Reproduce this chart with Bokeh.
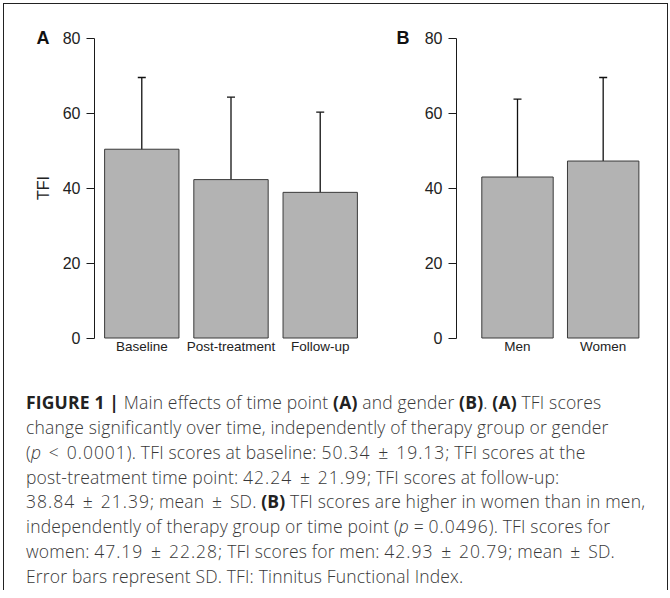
from bokeh.plotting import figure
from bokeh.models import (ColumnDataSource, FactorRange, Range1d, Whisker, TeeHead,
                          FixedTicker, LinearAxis, Div)
from bokeh.layouts import row, column
from bokeh.embed import file_html
from bokeh.resources import INLINE

# ---- data (from the figure caption) ----
time_points = ["Baseline", "Post-treatment", "Follow-up"]
time_means = [50.34, 42.24, 38.84]
time_sds = [19.13, 21.99, 21.39]

genders = ["Men", "Women"]
gender_means = [42.93, 47.19]
gender_sds = [20.79, 22.28]

y_ticks = [0, 20, 40, 60, 80]
y_label = "TFI"
panel_labels = ["A", "B"]

BAR_FILL = "#b3b3b3"
BAR_LINE = "#3a3a3a"
AXIS_COL = "#1a1a1a"
TICK_FONT = "Liberation Sans"


def style_common(p, src, xcol, bar_width, letter, letter_standoff, show_ylabel):
    p.vbar(x=xcol, top="mean", bottom=0, width=bar_width, source=src,
           fill_color=BAR_FILL, line_color=BAR_LINE, line_width=1)
    w = Whisker(base=xcol, upper="upper", lower="lower", source=src,
                line_color="#111111", line_width=1.3,
                upper_head=TeeHead(size=8, line_color="#111111", line_width=1.3),
                lower_head=TeeHead(size=8, line_color="#111111", line_width=1.3))
    p.add_layout(w)

    p.outline_line_color = None
    p.xgrid.grid_line_color = None
    p.ygrid.grid_line_color = None
    p.background_fill_color = "white"
    p.border_fill_color = "white"

    ya = p.yaxis[0]
    ya.ticker = FixedTicker(ticks=y_ticks)
    ya.bounds = (y_ticks[0], y_ticks[-1])
    ya.minor_tick_line_color = None
    ya.major_tick_in = 0
    ya.major_tick_out = 8
    ya.axis_line_color = AXIS_COL
    ya.major_tick_line_color = AXIS_COL
    ya.major_label_standoff = 6
    ya.major_label_text_font = TICK_FONT
    ya.major_label_text_font_size = "16px"
    ya.major_label_text_color = "#222222"
    if show_ylabel:
        ya.axis_label = y_label
        ya.axis_label_text_font = TICK_FONT
        ya.axis_label_text_font_size = "16px"
        ya.axis_label_text_font_style = "normal"
        ya.axis_label_text_color = "#222222"
        ya.axis_label_standoff = 8

    # panel letter: an extra, line-less left axis with one labelled tick at the top
    la = LinearAxis(ticker=FixedTicker(ticks=[y_ticks[-1]]),
                    major_label_overrides={y_ticks[-1]: letter},
                    axis_line_color=None, major_tick_line_color=None,
                    minor_tick_line_color=None, major_tick_in=0, major_tick_out=0,
                    major_label_standoff=letter_standoff,
                    major_label_text_font=TICK_FONT,
                    major_label_text_font_size="18px",
                    major_label_text_font_style="bold",
                    major_label_text_color="#111111")
    p.add_layout(la, "left")

    xa = p.xaxis[0]
    xa.axis_line_color = None
    xa.major_tick_line_color = None
    xa.minor_tick_line_color = None
    xa.major_tick_in = 0
    xa.major_tick_out = 0
    xa.major_label_standoff = -1
    xa.major_label_text_font = TICK_FONT
    xa.major_label_text_font_size = "13.5px"
    xa.major_label_text_color = "#222222"


def error_source(x, means, sds):
    return ColumnDataSource(dict(
        x=x, mean=means,
        upper=[m + s for m, s in zip(means, sds)],
        lower=[m - s for m, s in zip(means, sds)],
    ))


# ---- panel A: time point (categorical axis) ----
pA = figure(
    x_range=FactorRange(*time_points, factor_padding=0.2, range_padding=0.136,
                        range_padding_units="absolute"),
    y_range=Range1d(-0.4, 80.4),
    width=366, height=368,
    min_border_left=90, min_border_right=3, min_border_top=32, min_border_bottom=33,
    output_backend="svg", toolbar_location=None,
)
style_common(pA, error_source(time_points, time_means, time_sds), "x", 1.0,
             panel_labels[0], -18, True)

# ---- panel B: gender (numeric positions 1..n, labelled with the category names) ----
b_pos = [i + 1 for i in range(len(genders))]
pB = figure(
    x_range=Range1d(0.288, 2.634),
    y_range=Range1d(-0.4, 80.4),
    width=287, height=368,
    min_border_left=86, min_border_right=0, min_border_top=32, min_border_bottom=33,
    output_backend="svg", toolbar_location=None,
)
style_common(pB, error_source(b_pos, gender_means, gender_sds), "x", 1 / 1.2,
             panel_labels[1], 12, False)
pB.xaxis[0].ticker = FixedTicker(ticks=b_pos)
pB.xaxis[0].major_label_overrides = {k: g for k, g in zip(b_pos, genders)}


def sym(s):
    return f"<span style='margin:0 3px'>{s}</span>"


def num(s):
    return f"<span style='letter-spacing:1px'>{s}</span>"


PM = sym("±")
B = "<b style='font-weight:700;color:#222222'>"


def pm(m, s):
    return f"{num(f'{m:.2f}')} {PM} {num(f'{s:.2f}')}"


lines = [
    f"{B}FIGURE 1 |</b> Main effects of time point {B}(A)</b> and gender {B}(B)</b>. {B}(A)</b> TFI scores",
    "change significantly over time, independently of therapy group or gender",
    f"(<i>p</i> {sym('&lt;')} {num('0.0001')}). TFI scores at baseline: {pm(time_means[0], time_sds[0])}; TFI scores at the",
    f"post-treatment time point: {pm(time_means[1], time_sds[1])}; TFI scores at follow-up:",
    f"{pm(time_means[2], time_sds[2])}; mean {PM} SD. {B}(B)</b> TFI scores are higher in women than in men,",
    f"independently of therapy group or time point (<i>p</i> = {num('0.0496')}). TFI scores for",
    f"women: {pm(gender_means[1], gender_sds[1])}; TFI scores for men: {pm(gender_means[0], gender_sds[0])}; mean {PM} SD.",
    "Error bars represent SD. TFI: Tinnitus Functional Index.",
]
caption_html = (
    "<div style=\"font-family:'Open Sans', 'Liberation Sans', sans-serif; font-size:17.5px; "
    "font-weight:300; letter-spacing:0.17px; line-height:24.85px; color:#383838; "
    "padding:13px 0 0 17px; white-space:nowrap;\">"
    + "<br>".join(lines) + "</div>"
)
cap = Div(text=caption_html, width=653, height=208)

layout = column(
    row(pA, pB),
    cap,
    margin=(3, 0, 0, 3),
    styles={"border": "1px solid #222222", "border-bottom": "none"},
)

open("out.html", "w").write(file_html(layout, INLINE))
